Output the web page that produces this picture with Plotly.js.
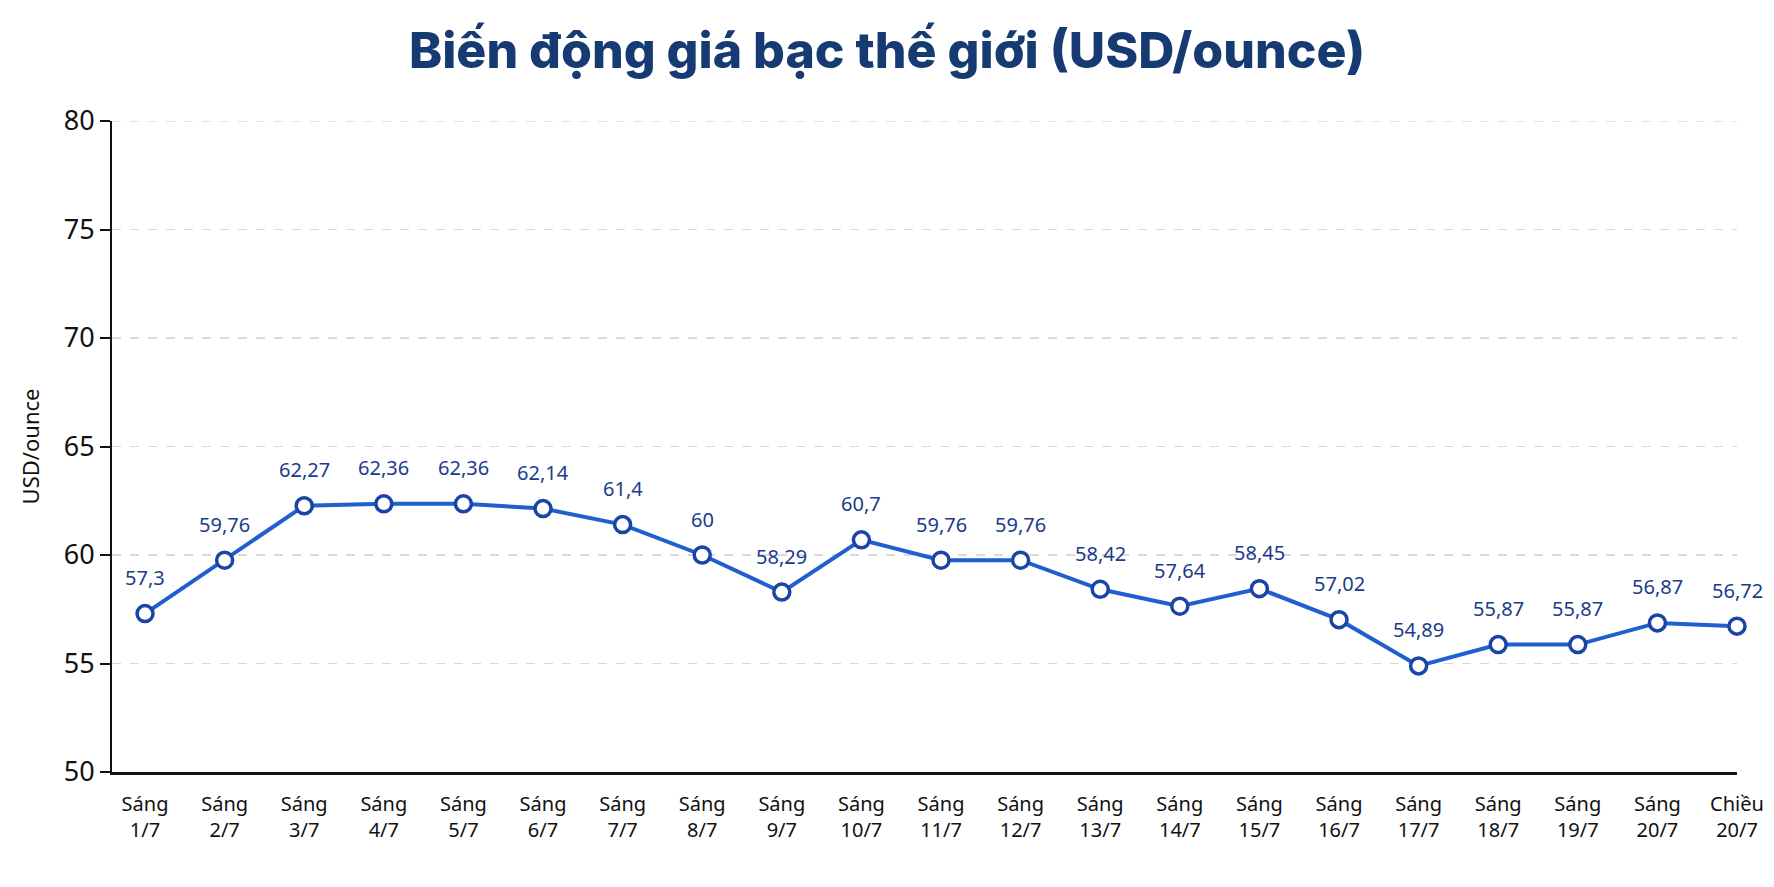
<!DOCTYPE html>
<html>
<head>
<meta charset="utf-8">
<script src="https://cdn.plot.ly/plotly-3.0.1.min.js"></script>
<style>
  html, body { margin: 0; padding: 0; background: #ffffff; }
  #chart { width: 1774px; height: 887px; }
</style>
</head>
<body>
<div id="chart"></div>
<script>
// Silver price per session, July
const sessions = ["Sáng", "Sáng", "Sáng", "Sáng", "Sáng", "Sáng", "Sáng", "Sáng", "Sáng", "Sáng",
                  "Sáng", "Sáng", "Sáng", "Sáng", "Sáng", "Sáng", "Sáng", "Sáng", "Sáng", "Sáng", "Chiều"];
const dates = ["1/7", "2/7", "3/7", "4/7", "5/7", "6/7", "7/7", "8/7", "9/7", "10/7",
               "11/7", "12/7", "13/7", "14/7", "15/7", "16/7", "17/7", "18/7", "19/7", "20/7", "20/7"];
const prices = [57.3, 59.76, 62.27, 62.36, 62.36, 62.14, 61.4, 60, 58.29, 60.7,
                59.76, 59.76, 58.42, 57.64, 58.45, 57.02, 54.89, 55.87, 55.87, 56.87, 56.72];
const yTicks = [50, 55, 60, 65, 70, 75, 80];

const idx = prices.map((_, i) => i);
const tickText = sessions.map((s, i) => s + "<br>" + dates[i]);
const fmt = v => String(v).replace(".", ",");

const font = "'Noto Sans', 'Open Sans', sans-serif";

const trace = {
  x: idx,
  y: prices,
  type: "scatter",
  mode: "lines+markers",
  line: { color: "#1f5fcf", width: 4 },
  marker: { size: 16, color: "#ffffff", line: { color: "#1a44a6", width: 3.5 } },
  cliponaxis: false,
  hoverinfo: "skip"
};

// value labels above each point
const annotations = prices.map((v, i) => ({
  x: i, y: v, xref: "x", yref: "y",
  text: fmt(v),
  showarrow: false,
  xanchor: "center",
  yanchor: "middle",
  yshift: 36,
  font: { family: font, size: 20, color: "#1b3c8c" }
}));

// dashed guide at the top of the value axis
const shapes = [{
  type: "line", xref: "paper", yref: "y",
  x0: 0, x1: 1, y0: 80, y1: 80,
  line: { color: "#d9d9d9", width: 1.3, dash: "dash" }
}];

const layout = {
  width: 1774,
  height: 887,
  paper_bgcolor: "#ffffff",
  plot_bgcolor: "#ffffff",
  margin: { l: 112, r: 37, t: 121, b: 115 },
  showlegend: false,
  title: {
    text: "Biến động giá bạc thế giới (USD/ounce)",
    x: 0.5, xanchor: "center",
    y: 0.943, yanchor: "middle",
    font: { family: "Inter, Roboto, sans-serif", size: 50, weight: 800, color: "#163b73" }
  },
  xaxis: {
    range: [-0.415, 20],
    tickmode: "array",
    tickvals: idx,
    ticktext: tickText,
    showgrid: false,
    zeroline: false,
    showline: true,
    linecolor: "#111111",
    linewidth: 2.5,
    ticks: "",
    ticklabelstandoff: 12,
    tickfont: { family: font, size: 20, color: "#111111" },
    fixedrange: true
  },
  yaxis: {
    range: [50, 80],
    tickmode: "array",
    tickvals: yTicks,
    ticktext: yTicks.map(String),
    showgrid: true,
    gridcolor: "#d9d9d9",
    griddash: "dash",
    gridwidth: 1.3,
    zeroline: false,
    showline: true,
    linecolor: "#111111",
    linewidth: 2,
    ticks: "outside",
    ticklen: 10,
    tickwidth: 2,
    tickcolor: "#111111",
    tickfont: { family: font, size: 27, color: "#111111" },
    title: {
      text: "USD/ounce",
      standoff: 18,
      font: { family: font, size: 22, color: "#111111" }
    },
    fixedrange: true
  },
  shapes: shapes,
  annotations: annotations
};

Plotly.newPlot("chart", [trace], layout, { displayModeBar: false, staticPlot: true });
</script>
</body>
</html>
